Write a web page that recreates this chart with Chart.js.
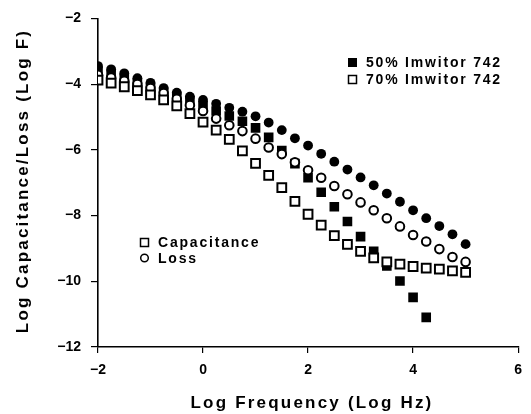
<!DOCTYPE html>
<html>
<head>
<meta charset="utf-8">
<script src="https://cdn.jsdelivr.net/npm/chart.js@4/dist/chart.umd.min.js"></script>
<style>
  html, body { margin: 0; padding: 0; background: #fff; }
  #wrap { width: 531px; height: 414px; }
</style>
</head>
<body>
<div id="wrap"><canvas id="chart"></canvas></div>
<script>
// Log frequency (Log Hz)
const logFreq = [-2, -1.75, -1.5, -1.25, -1, -0.75, -0.5, -0.25, 0, 0.25, 0.5, 0.75, 1, 1.25,
  1.5, 1.75, 2, 2.25, 2.5, 2.75, 3, 3.25, 3.5, 3.75, 4, 4.25, 4.5, 4.75, 5];

// 50% Imwitor 742 (filled markers)
const cap50 = [-3.6, -3.72, -3.83, -3.97, -4.1, -4.24, -4.37, -4.5, -4.65, -4.82, -4.97, -5.13, -5.33,
  -5.62, -6.02, -6.42, -6.85, -7.29, -7.73, -8.18, -8.64, -9.09, -9.53, -9.99, -10.49, -11.1];
const loss50 = [-3.45, -3.55, -3.67, -3.82, -3.96, -4.12, -4.26, -4.38, -4.48, -4.6, -4.72, -4.84, -4.98,
  -5.17, -5.4, -5.65, -5.87, -6.12, -6.36, -6.6, -6.84, -7.08, -7.33, -7.58, -7.84, -8.08, -8.32, -8.57, -8.87];

// 70% Imwitor 742 (open markers)
const cap70 = [-3.88, -3.97, -4.08, -4.2, -4.33, -4.48, -4.66, -4.9, -5.16, -5.4, -5.68, -6.03, -6.41,
  -6.78, -7.15, -7.57, -7.96, -8.29, -8.61, -8.88, -9.09, -9.29, -9.41, -9.48, -9.55, -9.6, -9.63, -9.68, -9.73];
const loss70 = [-3.72, -3.8, -3.9, -4.0, -4.12, -4.27, -4.45, -4.64, -4.82, -5.05, -5.25, -5.43, -5.66,
  -5.93, -6.13, -6.38, -6.62, -6.85, -7.1, -7.35, -7.6, -7.84, -8.08, -8.33, -8.59, -8.79, -9.02, -9.26, -9.41];

const xTicks = [-2, 0, 2, 4, 6];
const yTicks = [-12, -10, -8, -6, -4, -2];

const FONT = '"Liberation Sans", Arial, sans-serif';

const toPoints = (ys) => ys.map((y, i) => ({ x: logFreq[i], y: y }));
const fmt = (v) => (v < 0 ? '\u2212' + Math.abs(v) : String(v));

// Подписи осей и две легенды рисуем сами
const labelsPlugin = {
  id: 'labels',
  afterDraw(chart) {
    const ctx = chart.ctx;
    ctx.save();
    ctx.fillStyle = '#000';
    ctx.strokeStyle = '#000';
    ctx.textBaseline = 'middle';

    // axis titles
    ctx.font = 'bold 17px ' + FONT;
    ctx.letterSpacing = '2.2px';
    ctx.textAlign = 'center';
    ctx.fillText('Log Frequency (Log Hz)', 312, 403);
    ctx.save();
    ctx.translate(23, 181);
    ctx.rotate(-Math.PI / 2);
    ctx.fillText('Log Capacitance/Loss (Log F)', 0, 0);
    ctx.restore();

    // concentration legend
    ctx.font = 'bold 14px ' + FONT;
    ctx.letterSpacing = '1.8px';
    ctx.textAlign = 'left';
    ctx.fillRect(348, 58, 9, 9);
    ctx.lineWidth = 1.5;
    ctx.strokeRect(348.5, 75.5, 8, 8);
    ctx.fillText('50% Imwitor 742', 366, 63);
    ctx.fillText('70% Imwitor 742', 366, 80);

    // measurement legend
    ctx.strokeRect(140.5, 238.5, 8, 8);
    ctx.beginPath();
    ctx.arc(144.5, 258, 3.8, 0, Math.PI * 2);
    ctx.stroke();
    ctx.fillText('Capacitance', 158, 243);
    ctx.fillText('Loss', 158, 259);
    ctx.restore();
  }
};

const ctx = document.getElementById('chart').getContext('2d');
new Chart(ctx, {
  type: 'scatter',
  data: {
    datasets: [
      {
        label: '70% Capacitance',
        data: toPoints(cap70),
        pointStyle: 'rect',
        pointRadius: 6.2,
        borderWidth: 2,
        borderColor: '#000',
        backgroundColor: '#fff',
        order: 1
      },
      {
        label: '70% Loss',
        data: toPoints(loss70),
        pointStyle: 'circle',
        pointRadius: 4.3,
        borderWidth: 2,
        borderColor: '#000',
        backgroundColor: '#fff',
        order: 2
      },
      {
        label: '50% Capacitance',
        data: toPoints(cap50),
        pointStyle: 'rect',
        pointRadius: 6.8,
        borderWidth: 0,
        borderColor: '#000',
        backgroundColor: '#000',
        order: 3
      },
      {
        label: '50% Loss',
        data: toPoints(loss50),
        pointStyle: 'circle',
        pointRadius: 4.9,
        borderWidth: 0,
        borderColor: '#000',
        backgroundColor: '#000',
        order: 4
      }
    ]
  },
  options: {
    responsive: true,
    maintainAspectRatio: false,
    animation: false,
    layout: { padding: { top: 17, right: 4, left: 0, bottom: 0 } },
    plugins: {
      legend: { display: false },
      tooltip: { enabled: false }
    },
    scales: {
      x: {
        type: 'linear',
        min: -2,
        max: 6,
        afterBuildTicks: (scale) => { scale.ticks = xTicks.map(v => ({ value: v })); },
        afterFit: (scale) => { scale.height = 67; },
        border: { display: true, color: '#000', width: 1.6 },
        grid: { display: true, drawOnChartArea: false, tickLength: 6, color: '#000', lineWidth: 1.2 },
        ticks: {
          color: '#000',
          padding: 9,
          font: { family: FONT, size: 14, weight: 'bold' },
          callback: (v) => fmt(v)
        }
      },
      y: {
        type: 'linear',
        min: -12,
        max: -2,
        afterBuildTicks: (scale) => { scale.ticks = yTicks.map(v => ({ value: v })); },
        afterFit: (scale) => { scale.width = 98; },
        border: { display: true, color: '#000', width: 1.6 },
        grid: { display: true, drawOnChartArea: false, tickLength: 7, color: '#000', lineWidth: 1.2 },
        ticks: {
          color: '#000',
          padding: 10,
          font: { family: FONT, size: 14, weight: 'bold' },
          callback: (v) => fmt(v)
        }
      }
    }
  },
  plugins: [labelsPlugin]
});
</script>
</body>
</html>
